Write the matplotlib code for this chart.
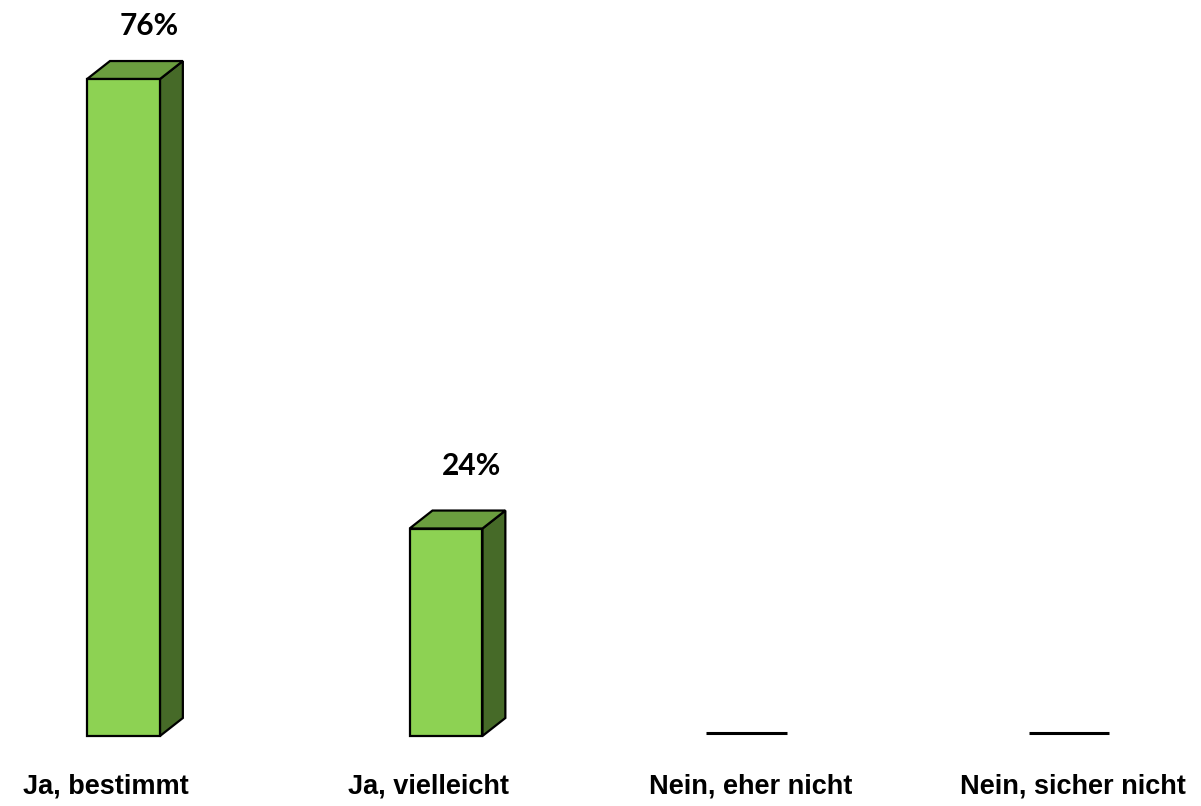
import matplotlib
matplotlib.use("Agg")
import matplotlib.pyplot as plt
from matplotlib.patches import Polygon
from matplotlib.transforms import offset_copy

# data
categories = ["Ja, bestimmt", "Ja, vielleicht", "Nein, eher nicht", "Nein, sicher nicht"]
values = [76, 24, 0, 0]
value_labels = ["76%", "24%", "", ""]

FRONT = "#8dd253"
TOP = "#6b9e3f"
SIDE = "#466a28"

BAR_W = 0.226   # front face width, category units
DX = 0.071      # depth offset, category units
DY = 2.08       # depth offset, value units

fig = plt.figure(figsize=(12.01, 8.06), dpi=100)
ax = fig.add_axes([0, 0, 1, 1])
ax.set_xlim(-0.383, 3.341)
ax.set_ylim(-8.10, 85.14)
ax.axis("off")

for i, v in enumerate(values):
    left, right = i - BAR_W / 2, i + BAR_W / 2
    if v > 0:
        front = Polygon([(left, 0), (right, 0), (right, v), (left, v)],
                        closed=True, fc=FRONT, ec="black", lw=1.6, joinstyle="miter")
        side = Polygon([(right, 0), (right + DX, DY), (right + DX, v + DY), (right, v)],
                       closed=True, fc=SIDE, ec="black", lw=1.6, joinstyle="miter")
        top = Polygon([(left, v), (left + DX, v + DY), (right + DX, v + DY), (right, v)],
                      closed=True, fc=TOP, ec="black", lw=1.6, joinstyle="miter")
        for p in (side, top, front):
            ax.add_patch(p)
    else:
        # empty category: flat line a touch above the baseline
        tr = offset_copy(ax.transData, fig=fig, x=0, y=3, units="dots")
        ax.plot([i - 0.193, i + 0.057], [v, v], color="black", lw=2.2,
                solid_capstyle="butt", transform=tr)

    if value_labels[i]:
        ax.annotate(value_labels[i], (i + 0.08, v + DY), xytext=(0, 35 if v > 50 else 45),
                    textcoords="offset pixels", ha="center", va="center",
                    fontsize=21.5, family="Lato", fontweight="bold", color="black")

    ax.annotate(categories[i], (i - 0.055, 0), xytext=(0, -51), textcoords="offset pixels",
                ha="center", va="center", fontsize=19.5, family="Liberation Sans",
                fontweight="bold", color="black")

fig.savefig("out.png", dpi=100)
